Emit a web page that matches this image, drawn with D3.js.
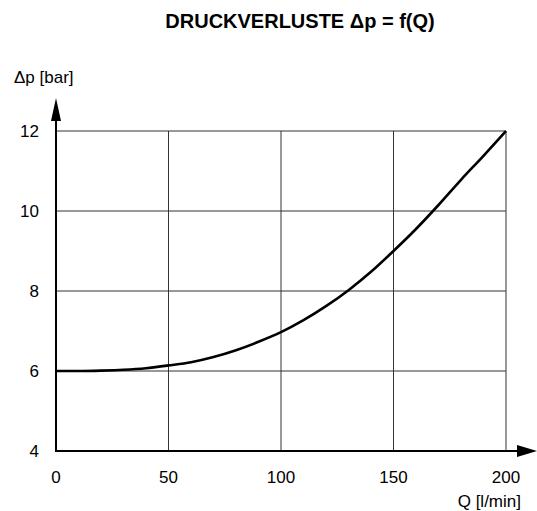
<!DOCTYPE html>
<html>
<head>
<meta charset="utf-8">
<script src="https://cdn.jsdelivr.net/npm/d3@7"></script>
<style>
html,body{margin:0;padding:0;background:#fff;}
svg{display:block;font-family:"Liberation Sans",Arial,sans-serif;}
</style>
</head>
<body>
<svg id="chart" width="537" height="511"></svg>
<script>
const flowQ = [0,10,20,30,40,50,60,70,80,90,100,110,120,130,140,150,160,170,180,190,200];
const pressureDrop = [6.00,6.00,6.01,6.03,6.07,6.14,6.22,6.35,6.52,6.73,6.97,7.27,7.62,8.02,8.48,9.00,9.55,10.15,10.78,11.38,12.00];
const xTicks = [0,50,100,150,200];
const yTicks = [4,6,8,10,12];
const titleText = "DRUCKVERLUSTE \u0394p = f(Q)";
const yLabelText = "\u0394p [bar]";
const xLabelText = "Q [l/min]";

const svg = d3.select("#chart");
const x = d3.scaleLinear().domain([0,200]).range([56,506]);
const y = d3.scaleLinear().domain([4,12]).range([451,131]);

// grid
const grid = svg.append("g");
grid.selectAll("line.v").data(xTicks.filter(d=>d>0)).enter().append("line")
  .attr("x1",d=>x(d)).attr("x2",d=>x(d)).attr("y1",y(12)).attr("y2",y(4))
  .attr("stroke","#333").attr("stroke-width",1);
grid.selectAll("line.h").data(yTicks.filter(d=>d>4)).enter().append("line")
  .attr("x1",x(0)).attr("x2",x(200)).attr("y1",d=>y(d)).attr("y2",d=>y(d))
  .attr("stroke","#333").attr("stroke-width",1);

// axes lines with arrows
svg.append("line").attr("x1",x(0)).attr("x2",x(0)).attr("y1",y(4)+1).attr("y2",118)
  .attr("stroke","#000").attr("stroke-width",2);
svg.append("path").attr("d",`M${x(0)-5},121 L${x(0)},98 L${x(0)+5},121 Z`).attr("fill","#000");
svg.append("line").attr("x1",x(0)-1).attr("x2",520).attr("y1",y(4)).attr("y2",y(4))
  .attr("stroke","#000").attr("stroke-width",2);
svg.append("path").attr("d",`M517,${y(4)-6} L537,${y(4)} L517,${y(4)+6} Z`).attr("fill","#000");

// tick labels
svg.selectAll("text.yt").data(yTicks).enter().append("text")
  .attr("x",39).attr("y",d=>y(d)+6).attr("text-anchor","end")
  .attr("font-size",17).attr("fill","#000").text(d=>d);
svg.selectAll("text.xt").data(xTicks).enter().append("text")
  .attr("x",d=>x(d)).attr("y",483).attr("text-anchor","middle")
  .attr("font-size",17).attr("fill","#000").text(d=>d);

// labels
svg.append("text").attr("x",14).attr("y",83).attr("font-size",17).attr("fill","#000").text(yLabelText);
svg.append("text").attr("x",521).attr("y",507).attr("text-anchor","end").attr("font-size",17).attr("fill","#000").text(xLabelText);
svg.append("text").attr("x",300).attr("y",28).attr("text-anchor","middle").attr("font-size",20).attr("font-weight","bold").attr("fill","#000").text(titleText);

// curve
const data = flowQ.map((q,i)=>({q, p: pressureDrop[i]}));
svg.append("path").datum(data)
  .attr("d", d3.line().x(d=>x(d.q)).y(d=>y(d.p)).curve(d3.curveMonotoneX))
  .attr("fill","none").attr("stroke","#000").attr("stroke-width",2.6);
</script>
</body>
</html>
